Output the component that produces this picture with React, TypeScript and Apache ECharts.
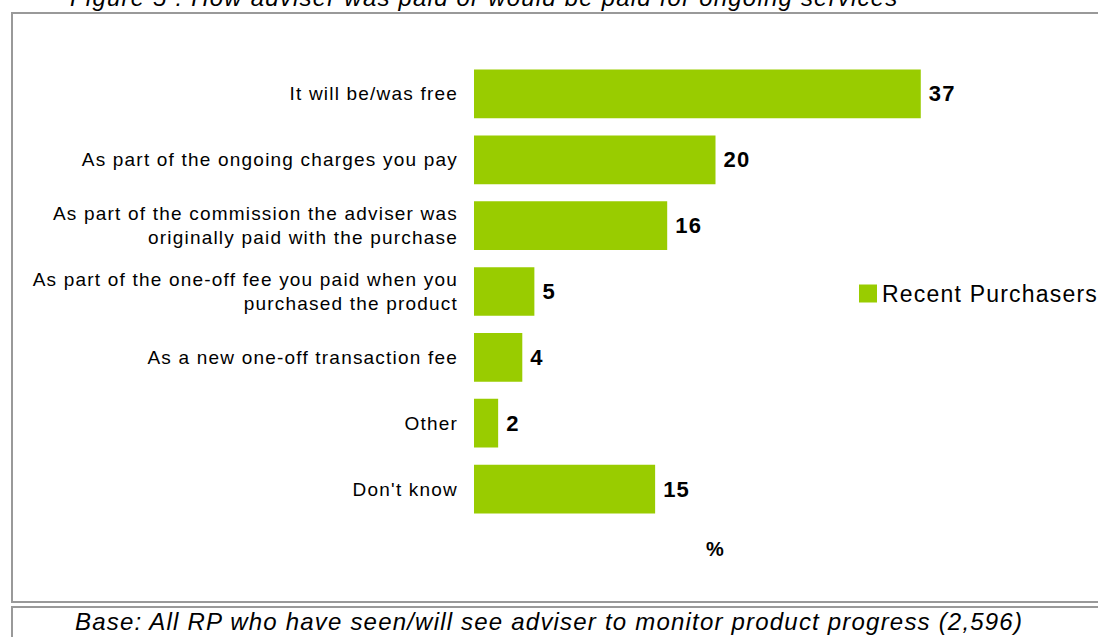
import React, { useEffect, useRef } from "react";
import * as echarts from "echarts";

const categories: string[] = [
  "It will be/was free",
  "As part of the ongoing charges you pay",
  "As part of the commission the adviser was\noriginally paid with the purchase",
  "As part of the one-off fee you paid when you\npurchased the product",
  "As a new one-off transaction fee",
  "Other",
  "Don't know",
];

const recentPurchasers: number[] = [37, 20, 16, 5, 4, 2, 15];

const seriesName = "Recent Purchasers";
const axisName = "%";
const titleText = "Figure 5 : How adviser was paid or would be paid for ongoing services";
const baseText = "Base: All RP who have seen/will see adviser to monitor product progress (2,596)";

const FONT = "Arial, 'Liberation Sans', sans-serif";
const GREEN = "#99cc00";

export default function App() {
  const ref = useRef<HTMLDivElement>(null);

  useEffect(() => {
    if (!ref.current) return;
    const chart = echarts.init(ref.current, undefined, { renderer: "svg" });
    chart.setOption({
      animation: false,
      backgroundColor: "#ffffff",
      textStyle: { fontFamily: FONT },
      graphic: [
        {
          type: "rect",
          shape: { x: 12, y: 13, width: 1100, height: 589 },
          style: { fill: "none", stroke: "#999999", lineWidth: 2 },
          silent: true,
        },
        {
          type: "rect",
          shape: { x: 12, y: 607, width: 1100, height: 60 },
          style: { fill: "none", stroke: "#999999", lineWidth: 2 },
          silent: true,
        },
        {
          type: "text",
          left: 70,
          top: -15,
          style: {
            text: titleText,
            font: `italic 24px ${FONT}`,
            fill: "#000000",
          },
        },
        {
          type: "text",
          left: 75,
          top: 609,
          style: {
            text: baseText,
            font: `italic 24px ${FONT}`,
            fill: "#000000",
          },
        },
      ],
      legend: {
        left: 854,
        top: 277,
        orient: "vertical",
        itemWidth: 18,
        itemHeight: 18,
        icon: "rect",
        data: [seriesName],
        textStyle: { fontSize: 23, color: "#000000", fontFamily: FONT },
      },
      grid: { left: 474, top: 61, width: 483, height: 461, containLabel: false },
      xAxis: {
        type: "value",
        min: 0,
        max: 40,
        name: axisName,
        nameLocation: "middle",
        nameGap: 17,
        nameTextStyle: { fontSize: 20, fontWeight: "bold", color: "#000000", fontFamily: FONT },
        axisLine: { show: false },
        axisTick: { show: false },
        axisLabel: { show: false },
        splitLine: { show: false },
      },
      yAxis: {
        type: "category",
        inverse: true,
        data: categories,
        axisLine: { show: false },
        axisTick: { show: false },
        axisLabel: {
          margin: 16,
          fontSize: 19,
          lineHeight: 24,
          color: "#000000",
          align: "right",
          fontFamily: FONT,
        },
      },
      series: [
        {
          name: seriesName,
          type: "bar",
          data: recentPurchasers,
          barCategoryGap: "26%",
          itemStyle: { color: GREEN },
          label: {
            show: true,
            position: "right",
            distance: 8,
            fontSize: 22,
            fontWeight: "bold",
            color: "#000000",
            fontFamily: FONT,
          },
        },
      ],
    });
    return () => chart.dispose();
  }, []);

  return (
    <div
      ref={ref}
      style={{
        position: "fixed",
        left: 0,
        top: 0,
        width: 1098,
        height: 637,
        background: "#fff",
        letterSpacing: "1.2px",
      }}
    />
  );
}
